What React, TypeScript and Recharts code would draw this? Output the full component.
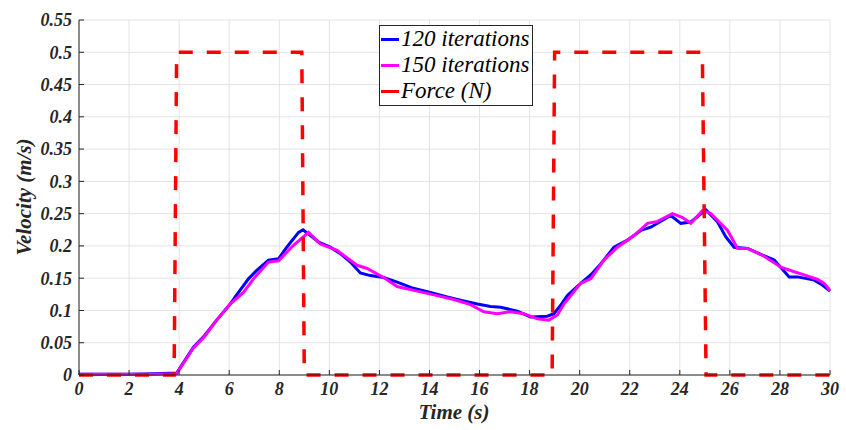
import React from "react";
import {
  CartesianGrid,
  Legend,
  Line,
  LineChart,
  XAxis,
  YAxis,
} from "recharts";

const xTicks = [0, 2, 4, 6, 8, 10, 12, 14, 16, 18, 20, 22, 24, 26, 28, 30];
const yTicks = [0, 0.05, 0.1, 0.15, 0.2, 0.25, 0.3, 0.35, 0.4, 0.45, 0.5, 0.55];

const time120 = [
  0, 1, 2, 3, 3.9, 4.57, 4.97, 5.5, 6.04, 6.24, 6.77, 7.1, 7.57, 7.97, 8.3, 8.77, 8.95, 9.57,
  10.04, 10.44, 10.84, 11.24, 11.64, 12.17, 12.71, 13.31, 14.04, 14.71, 15.24, 15.91, 16.44,
  16.84, 17.51, 18.04, 18.71, 18.97, 19.24, 19.51, 20.04, 20.44, 20.84, 21.37, 21.91, 22.44,
  22.84, 23.64, 24.04, 24.44, 25.04, 25.51, 25.84, 26.17, 26.71, 27.24, 27.77, 28.37, 28.71,
  29.37, 29.71, 30,
];
const vel120 = [
  0.001, 0.001, 0.001, 0.002, 0.003, 0.043, 0.059, 0.085, 0.11, 0.121, 0.149, 0.162, 0.178, 0.18,
  0.198, 0.221, 0.225, 0.206, 0.198, 0.188, 0.175, 0.158, 0.154, 0.151, 0.144, 0.135, 0.128,
  0.121, 0.116, 0.11, 0.106, 0.105, 0.099, 0.09, 0.091, 0.095, 0.108, 0.123, 0.142, 0.155,
  0.172, 0.198, 0.209, 0.224, 0.229, 0.247, 0.235, 0.237, 0.256, 0.237, 0.214, 0.198, 0.196,
  0.187, 0.178, 0.152, 0.152, 0.147, 0.139, 0.13,
];

const time150 = [
  0, 1, 2, 3, 3.9, 4.57, 5, 5.5, 6.04, 6.57, 6.97, 7.57, 7.97, 8.57, 9.17, 9.64, 10.31, 11.11,
  11.51, 12.17, 12.71, 13.51, 14.31, 14.97, 15.64, 16.17, 16.71, 17.24, 17.77, 18.31, 18.77,
  19.11, 19.37, 20.04, 20.44, 20.97, 21.51, 22.17, 22.71, 23.11, 23.71, 24.11, 24.44, 24.91,
  25.24, 25.91, 26.31, 26.71, 27.37, 28.04, 28.57, 28.91, 29.51, 29.77, 30,
];
const vel150 = [
  0.001, 0.001, 0.001, 0.001, 0.002, 0.042, 0.059, 0.085, 0.11, 0.128, 0.149, 0.175, 0.177,
  0.201, 0.221, 0.203, 0.193, 0.17, 0.165, 0.151, 0.137, 0.13, 0.123, 0.117, 0.109, 0.098,
  0.095, 0.098, 0.095, 0.087, 0.085, 0.093, 0.11, 0.142, 0.149, 0.178, 0.198, 0.216, 0.235,
  0.238, 0.25, 0.244, 0.235, 0.255, 0.25, 0.224, 0.196, 0.196, 0.184, 0.167, 0.16, 0.156,
  0.148, 0.142, 0.131,
];

const forceTime = [0, 3.8, 3.9, 8.9, 9.0, 18.9, 19.0, 24.9, 25.05, 30];
const forceValue = [0, 0, 0.5, 0.5, 0, 0, 0.5, 0.5, 0, 0];

const seriesNames = ["120 iterations", "150 iterations", "Force (N)"];
const seriesColors = ["#0000ff", "#ff00ff", "#ff0000"];

const data120 = time120.map((t, i) => ({ t, v: vel120[i] }));
const data150 = time150.map((t, i) => ({ t, v: vel150[i] }));
const dataForce = forceTime.map((t, i) => ({ t, v: forceValue[i] }));

const FONT = '"Liberation Serif", "Times New Roman", serif';
const AXIS = "#262626";

const tickStyle = {
  fontSize: 18,
  fontFamily: FONT,
  fontWeight: "bold",
  fontStyle: "italic",
  fill: AXIS,
};

const LegendBox = () => (
  <div
    style={{
      border: `1px solid ${AXIS}`,
      background: "#fff",
      padding: "0px 3px 1px 1px",
      fontFamily: FONT,
      fontStyle: "italic",
      fontSize: 23,
      lineHeight: "26px",
      color: "#000",
    }}
  >
    {seriesNames.map((name, i) => (
      <div key={name} style={{ display: "flex", alignItems: "center" }}>
        <span
          style={{
            display: "inline-block",
            width: 18,
            height: 3,
            background: seriesColors[i],
            marginRight: 2,
          }}
        />
        <span style={{ whiteSpace: "nowrap" }}>{name}</span>
      </div>
    ))}
  </div>
);

export default function App() {
  return (
    <div style={{ position: "absolute", left: 0, top: 0, background: "#fff" }}>
      <LineChart
        width={846}
        height={430}
        margin={{ top: 20, right: 16, bottom: 0, left: 0 }}
      >
        <CartesianGrid stroke="#e3e3e3" strokeWidth={1} />
        <XAxis
          dataKey="t"
          type="number"
          domain={[0, 30]}
          ticks={xTicks}
          height={55}
          allowDuplicatedCategory={false}
          stroke={AXIS}
          tickSize={-5}
          tickMargin={12}
          tick={tickStyle}
          label={{
            content: () => (
              <text
                x={454}
                y={419}
                textAnchor="middle"
                fontFamily={FONT}
                fontWeight="bold"
                fontStyle="italic"
                fontSize={21}
                fill={AXIS}
              >
                Time (s)
              </text>
            ),
          }}
        />
        <YAxis
          type="number"
          domain={[0, 0.55]}
          ticks={yTicks}
          width={79}
          stroke={AXIS}
          tickSize={-5}
          tickMargin={12}
          tick={tickStyle}
          tickFormatter={(v: number) => String(v)}
          label={{
            content: () => (
              <text
                x={31}
                y={197}
                transform="rotate(-90 31 197)"
                textAnchor="middle"
                fontFamily={FONT}
                fontWeight="bold"
                fontStyle="italic"
                fontSize={21}
                fill={AXIS}
              >
                Velocity (m/s)
              </text>
            ),
          }}
        />
        <XAxis
          xAxisId="top"
          orientation="top"
          type="number"
          domain={[0, 30]}
          ticks={xTicks}
          height={0}
          stroke={AXIS}
          tickSize={-5}
          tick={false}
        />
        <YAxis
          yAxisId="right"
          orientation="right"
          type="number"
          domain={[0, 0.55]}
          ticks={yTicks}
          width={0}
          stroke={AXIS}
          tickSize={-5}
          tick={false}
        />
        <Legend
          layout="vertical"
          align="center"
          verticalAlign="middle"
          content={() => <LegendBox />}
          wrapperStyle={{ left: 379, top: 25, width: "auto" }}
        />
        <Line
          data={data120}
          dataKey="v"
          name={seriesNames[0]}
          type="linear"
          stroke={seriesColors[0]}
          strokeWidth={3}
          dot={false}
          isAnimationActive={false}
        />
        <Line
          data={data150}
          dataKey="v"
          name={seriesNames[1]}
          type="linear"
          stroke={seriesColors[1]}
          strokeWidth={3}
          dot={false}
          isAnimationActive={false}
        />
        <Line
          data={dataForce}
          dataKey="v"
          name={seriesNames[2]}
          type="linear"
          stroke={seriesColors[2]}
          strokeWidth={3.5}
          strokeDasharray="14 14"
          dot={false}
          isAnimationActive={false}
        />
      </LineChart>
    </div>
  );
}
